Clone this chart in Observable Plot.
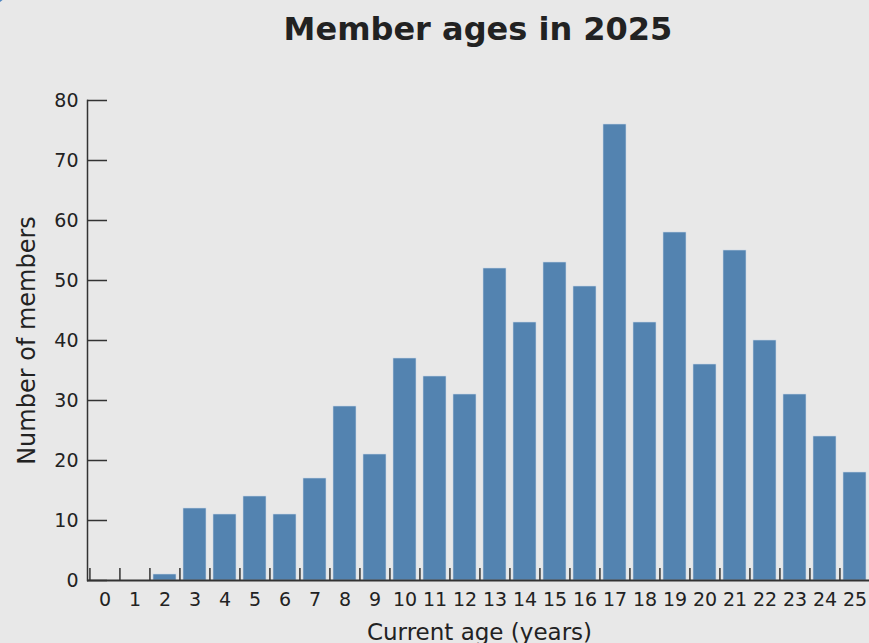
<!DOCTYPE html>
<html>
<head>
<meta charset="utf-8">
<script src="https://cdn.jsdelivr.net/npm/d3@7"></script>
<script src="https://cdn.jsdelivr.net/npm/@observablehq/plot@0.6"></script>
<style>
  html, body { margin: 0; padding: 0; background: #e8e8e8; overflow: hidden; width: 869px; height: 643px; }
  #wrap { position: relative; width: 869px; height: 643px; overflow: hidden; }
  #corner { position: absolute; left: -24px; top: -28px; width: 32px; height: 32px; border-radius: 50%; background: #4f86c0; }
  #title { position: absolute; left: 87px; width: 782px; top: 0; height: 60px; text-align: center;
           font-family: "DejaVu Sans", sans-serif; font-weight: bold; font-size: 32px; line-height: 58px; color: #222; }
  #chart { position: absolute; left: 0; top: 60px; width: 872px; }
  #chart svg { max-width: none !important; }
</style>
</head>
<body>
<div id="wrap">
  <div id="corner"></div>
  <div id="title">Member ages in 2025</div>
  <div id="chart"></div>
</div>
<script>
const ages = [0,1,2,3,4,5,6,7,8,9,10,11,12,13,14,15,16,17,18,19,20,21,22,23,24,25];
const members = [0,0,1,12,11,14,11,17,29,21,37,34,31,52,43,53,49,76,43,58,36,55,40,31,24,18];
const yTicks = [0,10,20,30,40,50,60,70,80];
const data = ages.map((a, i) => ({age: a, count: members[i]}));

const W = 872, H = 583, ML = 87, MR = 1, MT = 40, MB = 63;
const step = (W - ML - MR) / ages.length;
const font = "DejaVu Sans, sans-serif";

const chart = Plot.plot({
  width: W, height: H,
  marginLeft: ML, marginRight: MR, marginTop: MT, marginBottom: MB,
  style: { background: "transparent", fontFamily: font, fontSize: "19px", color: "#222", overflow: "visible", maxWidth: "none" },
  x: { type: "band", domain: ages, paddingInner: 0.25, paddingOuter: 0.125, align: 0.5, label: null },
  y: { domain: [0, 80], label: null },
  marks: [
    Plot.barY(data, { x: "age", y: "count", fill: "#5383b0", stroke: "#c9d7e6", strokeWidth: 0.6 }),
    Plot.ruleX(ages, { x: d => d, dx: -step / 2, y1: 0, y2: 2, stroke: "#333", strokeWidth: 1.5 }),
    Plot.ruleY([0], { stroke: "#333", strokeWidth: 2 }),
    Plot.axisY({ ticks: yTicks, tickSize: -20, tickPadding: 29, stroke: "#333", strokeWidth: 1.5, strokeOpacity: 1, label: null, fontSize: 19 }),
    Plot.frame({ anchor: "left", stroke: "#333", strokeWidth: 1.5 }),
    Plot.axisX({ tickSize: 0, tickPadding: 12, label: null, fontSize: 19 }),
    Plot.text(["Current age (years)"], { text: d => d, frameAnchor: "bottom", textAnchor: "middle", dy: 59, fontSize: 23, fill: "#222" }),
    Plot.text(["Number of members"], { text: d => d, frameAnchor: "left", textAnchor: "middle", dx: -60, rotate: -90, fontSize: 24, fill: "#222" })
  ]
});
document.getElementById("chart").appendChild(chart);
</script>
</body>
</html>
